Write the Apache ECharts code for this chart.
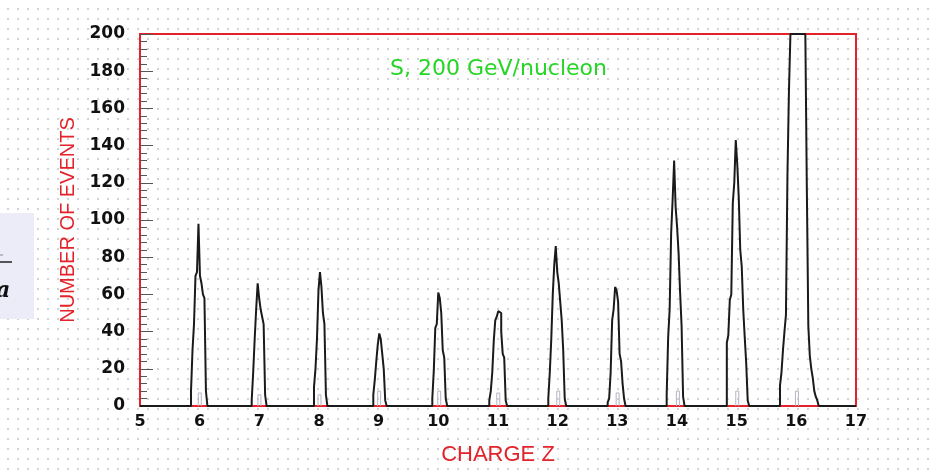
<!DOCTYPE html>
<html>
<head>
<meta charset="utf-8">
<script src="https://cdn.jsdelivr.net/npm/echarts@6/dist/echarts.min.js"></script>
<style>
  html, body { margin: 0; padding: 0; }
  body {
    width: 936px; height: 474px; overflow: hidden;
    background-color: #ffffff;
    background-image: radial-gradient(circle, #d2d2d6 0.9px, rgba(255,255,255,0) 1.4px);
    background-size: 10px 10px;
    background-position: 3px 4px;
  }
  #chart { width: 936px; height: 474px; }
</style>
</head>
<body>
<div id="chart"></div>
<script>
// Histogram of reconstructed charge Z for S at 200 GeV/nucleon.
// Each peak is stored as the lower edge of its first bin plus the counts per bin.
const binWidth = 0.025;

const peakLeftEdges = [5.855, 6.872, 7.916, 8.910, 9.899, 10.854, 11.843, 12.838, 13.827, 14.835, 15.726];

const peakCounts = [
  [8, 30, 44, 70, 72, 98, 70, 66, 60, 58, 8],                       // Z = 6
  [3, 18, 36, 52, 66, 58, 52, 48, 44, 6],                           // Z = 7
  [10, 20, 36, 62, 72, 64, 50, 44, 6],                              // Z = 8
  [6, 14, 24, 33, 39, 36, 28, 20, 3],                               // Z = 9
  [4, 19, 42, 44, 61, 58, 50, 30, 26, 4],                           // Z = 10
  [3, 8, 18, 35, 46, 48, 51, 50, 40, 28, 26, 3],                    // Z = 11
  [4, 18, 36, 60, 76, 86, 72, 66, 56, 46, 30, 4],                   // Z = 12
  [2, 4, 18, 46, 52, 64, 62, 56, 28, 24, 12, 4],                    // Z = 13
  [6, 37, 52, 93, 111, 132, 107, 96, 82, 61, 43, 5],                // Z = 14
  [34, 38, 57, 60, 109, 120, 143, 130, 112, 84, 75, 52, 37, 23, 3], // Z = 15
  [11, 18, 30, 40, 49, 124, 169, 200, 200, 200, 200, 200, 200, 200, 200, 200, 200, 200,
   117, 43, 27, 20, 15, 8, 5, 3]                                    // Z = 16 (off scale)
];

// Faint reference histogram sitting at the foot of each peak
const faintLeftEdges = [5.977, 6.977, 7.983, 8.983, 9.990, 10.980, 11.985, 12.980, 13.990, 14.985, 15.985];
const faintCounts = [
  [7, 7], [6, 6], [6, 6], [8, 8], [8, 8], [7, 7], [8, 8], [7, 7], [8, 8], [8, 8], [8, 8]
];

const xTicks = [5, 6, 7, 8, 9, 10, 11, 12, 13, 14, 15, 16, 17];
const yTicks = [0, 20, 40, 60, 80, 100, 120, 140, 160, 180, 200];

const titleText = 'S, 200 GeV/nucleon';
const xName = 'CHARGE Z';
const yName = 'NUMBER OF EVENTS';

// Build a closed step outline for one block of bins
function outline(left, counts) {
  const pts = [[left, 0]];
  counts.forEach((c, i) => {
    pts.push([left + i * binWidth, c]);
    pts.push([left + (i + 1) * binWidth, c]);
  });
  pts.push([left + counts.length * binWidth, 0]);
  return pts;
}

let mainData = [[xTicks[0], 0]];
peakLeftEdges.forEach((z0, k) => { mainData = mainData.concat(outline(z0, peakCounts[k])); });
mainData.push([xTicks[xTicks.length - 1], 0]);

const faintSeries = faintLeftEdges.map((z0, k) => ({
  type: 'line',
  data: outline(z0, faintCounts[k]),
  showSymbol: false,
  silent: true,
  lineStyle: { color: '#b4b4c4', width: 1 },
  z: 2
}));

const RED = '#e3222a';
const chart = echarts.init(document.getElementById('chart'), null, { renderer: 'canvas' });

chart.setOption({
  animation: false,
  backgroundColor: 'transparent',
  title: {
    text: titleText,
    left: 385,
    top: 53,
    textStyle: { color: '#26d626', fontSize: 22, fontWeight: 'normal', fontFamily: 'DejaVu Sans' }
  },
  grid: {
    left: 140, top: 34, width: 716, height: 372,
    show: true, borderColor: RED, borderWidth: 2, backgroundColor: 'transparent'
  },
  xAxis: {
    type: 'value',
    min: xTicks[0], max: xTicks[xTicks.length - 1], interval: 1,
    name: xName, nameLocation: 'middle', nameGap: 38,
    nameTextStyle: { color: RED, fontSize: 22, fontFamily: 'Liberation Sans' },
    axisLine: { show: true, lineStyle: { color: RED, width: 2 } },
    axisTick: { show: false },
    splitLine: { show: false },
    axisLabel: {
      margin: 8, color: '#111', fontSize: 16, fontWeight: 'bold', fontFamily: 'DejaVu Sans',
      showMinLabel: true, showMaxLabel: true
    }
  },
  yAxis: {
    type: 'value',
    min: yTicks[0], max: yTicks[yTicks.length - 1], interval: 20,
    name: yName, nameLocation: 'middle', nameGap: 57, nameRotate: 90,
    nameTextStyle: { color: RED, fontSize: 20, fontFamily: 'Liberation Sans' },
    axisLine: { show: true, lineStyle: { color: RED, width: 2 } },
    axisTick: { show: true, inside: true, length: 13, lineStyle: { color: '#555', width: 1 } },
    minorTick: { show: true, splitNumber: 5, length: 7, lineStyle: { color: '#555', width: 1 } },
    splitLine: { show: false },
    axisLabel: {
      margin: 15, color: '#111', fontSize: 17, fontWeight: 'bold', fontFamily: 'DejaVu Sans',
      showMinLabel: true, showMaxLabel: true
    }
  },
  series: faintSeries.concat([{
    type: 'line',
    data: mainData,
    showSymbol: false,
    silent: true,
    clip: true,
    lineStyle: { color: '#1a1a1a', width: 2 },
    z: 3
  }]),
  graphic: [
    { type: 'rect', shape: { x: 0, y: 213, width: 34, height: 106 }, style: { fill: '#ececf8' }, z: 0 },
    { type: 'line', shape: { x1: 0, y1: 255, x2: 3, y2: 255 }, style: { stroke: '#888', lineWidth: 1 } },
    { type: 'line', shape: { x1: 0, y1: 262, x2: 12, y2: 262 }, style: { stroke: '#222', lineWidth: 1.5 } },
    { type: 'text', left: -4, top: 280, style: { text: 'a', fill: '#111', font: 'italic bold 22px "DejaVu Serif"' } }
  ]
});
</script>
</body>
</html>
